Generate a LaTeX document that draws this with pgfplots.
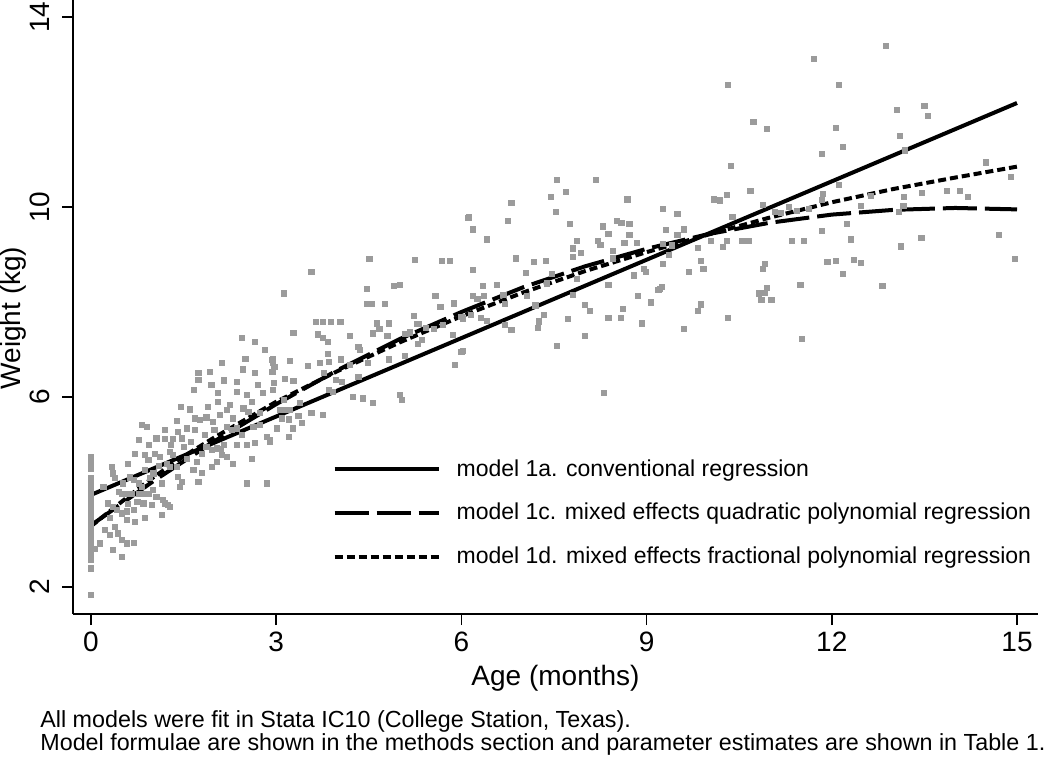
\documentclass[border=0pt]{standalone}
\usepackage{fontspec}
\setmainfont{Liberation Sans}
\usepackage{pgfplots}
\pgfplotsset{compat=1.18}
\definecolor{ptgray}{RGB}{155,155,155}

\begin{document}
\begin{tikzpicture}
\begin{axis}[
    scale only axis,
    width=482.5pt, height=307pt,
    xmin=-0.2916, xmax=15.34,
    ymin=1.432, ymax=14.358,
    axis x line*=bottom, axis y line*=left,
    axis line style={-, line width=0.75pt},
    xtick={0,3,6,9,12,15},
    ytick={2,6,10,14},
    tick align=outside,
    major tick length=5.5pt,
    tick style={black, line width=0.75pt},
    /pgf/number format/assume math mode=true,
    ticklabel style={font=\fontsize{14}{16}\selectfont},
    yticklabel style={rotate=90, anchor=south, yshift=2.5pt},
    xlabel={Age (months)}, ylabel={Weight (kg)},
    label style={font=\fontsize{14}{16}\selectfont},
    ylabel style={at={(axis description cs:0,0.482)}, anchor=center, yshift=30pt},
    legend cell align=left,
    legend style={draw=none, fill=none, at={(axis cs:3.81,4.86)}, anchor=north west,
        font=\fontsize{11.5}{13}\selectfont, row sep=8pt},
    legend image code/.code={\draw[#1] (0pt,0pt) -- (52pt,0pt); \path (58pt,0pt);},
]

% observed weights
\addplot[only marks, mark=square*, mark size=1.3pt, color=ptgray, forget plot] coordinates {
(0,1.83)(0,2.39)(0,2.57)(0,2.66)(0,2.75)(0,2.84)(0,2.93)(0,3.02)(0,3.11)(0,3.20)(0,3.29)(0,3.38)(0,3.47)(0,3.56)(0,3.65)(0,3.74)(0,3.83)(0,3.92)(0,4.01)(0,4.10)(0,4.19)(0,4.29)(0,4.48)(0,4.62)(0,4.74)
(2.44,7.24)(2.66,7.16)(2.82,6.99)(2.95,6.81)(2.95,6.71)(2.12,6.71)(2.46,6.58)(2.66,6.50)(1.74,6.51)(1.93,6.53)(1.74,6.36)(2.36,6.32)(2.94,6.53)(1.67,6.15)(2.36,6.11)(2.52,6.04)(2.05,6.08)(2.79,6.08)(2.94,6.15)(2.06,5.90)(2.25,5.83)(2.20,5.73)(1.60,5.74)(1.90,5.80)(2.09,5.62)(2.47,5.76)(2.55,5.69)(2.74,5.66)
(0.82,5.41)(0.90,5.37)(1.39,5.50)(1.68,5.55)(1.77,5.52)(1.87,5.57)(1.98,5.48)(1.55,5.34)(1.68,5.31)(2.20,5.37)(2.28,5.31)(2.36,5.34)(2.63,5.37)(2.74,5.41)(1.41,5.27)(1.06,5.13)(1.20,5.11)(1.33,5.11)(0.77,5.09)(0.94,4.99)(1.47,5.13)(1.87,4.95)(1.96,4.88)(2.04,4.92)(2.12,4.78)(2.20,4.74)(2.04,4.64)(2.36,4.99)(2.52,4.99)(2.66,5.03)(2.85,5.16)(2.90,5.09)
(0.71,4.81)(0.87,4.78)(0.93,4.67)(1.04,4.81)(1.12,4.74)(1.28,4.85)(1.33,4.78)(1.23,4.60)(1.28,4.53)(1.39,4.53)(1.41,4.32)(1.71,4.64)(1.96,4.53)(1.66,4.46)(1.74,4.22)(2.52,4.18)(2.85,4.18)(0.34,4.53)(0.36,4.39)(0.39,4.29)(0.52,4.18)(0.63,4.32)(0.69,4.25)
(0.50,3.96)(0.58,3.96)(0.66,3.96)(0.77,3.96)(0.87,3.96)(0.93,3.96)(1.06,3.90)(1.17,3.83)(1.25,3.73)(1.20,3.76)(0.98,3.73)(0.85,3.76)(0.28,3.76)(0.36,3.69)(0.42,3.62)(0.50,3.55)(0.58,3.59)(0.69,3.62)(1.15,3.52)(1.28,3.69)(0.87,3.45)(0.71,3.37)(0.58,3.41)(0.23,3.20)(0.31,3.09)(0.44,3.13)(0.39,3.27)(0.50,2.99)(0.58,2.92)(0.69,2.93)(0.36,2.78)(0.50,2.64)(0.15,2.92)(0.06,2.81)
(1.44,4.11)(1.47,4.22)(1.15,4.18)(1.01,4.39)(0.87,4.46)(0.63,4.29)(0.77,4.18)(0.82,4.11)(2.10,4.90)(2.15,5.00)(1.80,4.80)(1.55,4.70)(1.50,4.95)(1.10,4.55)(0.95,4.30)(0.75,3.80)(0.60,3.75)(1.00,4.05)
(1.30,5.00)(1.62,5.05)(1.85,5.20)(2.00,5.30)(2.30,5.55)(2.60,5.90)(2.70,6.25)(2.50,6.80)(1.95,6.25)(1.45,5.80)(1.20,5.30)(0.60,4.60)(0.45,4.00)(0.30,3.45)(0.20,4.10)(1.80,4.40)(2.30,4.60)(2.60,4.70)(2.45,5.20)(2.15,6.35)
(6.11,9.77)(4.51,8.91)(5.25,8.88)(5.69,8.86)(5.82,8.86)(3.57,8.63)(3.13,8.18)(4.47,8.27)(4.90,8.34)(5.01,8.36)(5.58,8.13)(4.47,7.96)(4.55,7.96)(4.76,7.96)(5.66,7.90)(5.88,7.97)(5.23,7.71)(5.31,7.54)(3.64,7.58)(3.75,7.58)(3.89,7.58)(4.04,7.58)(3.28,7.35)(3.68,7.32)(3.75,7.24)(3.84,7.16)(4.20,7.29)(4.63,7.55)(4.67,7.43)(4.83,7.55)(4.56,7.34)(4.80,7.29)(5.09,7.33)(5.17,7.36)(5.28,7.54)(5.42,7.45)(5.56,7.43)(5.70,7.52)(5.86,7.31)(5.29,7.12)(5.36,7.20)(6.00,7.69)
(2.93,6.78)(2.97,6.64)(2.93,6.53)(3.22,6.76)(3.51,6.65)(3.71,6.71)(3.86,6.74)(4.05,6.79)(4.20,6.67)(3.84,6.91)(4.33,7.06)(4.36,6.99)(4.48,6.71)(4.83,6.79)(5.09,6.87)(6.00,6.95)(5.90,6.67)(3.14,6.38)(3.28,6.34)(2.96,6.30)(3.77,6.50)(3.97,6.36)(4.06,6.32)(4.33,6.43)(3.86,6.15)(3.92,6.11)(4.24,6.01)(4.41,5.97)(4.56,5.87)(5.01,6.04)(5.03,5.94)(3.12,5.94)(3.39,5.87)(3.57,5.66)(3.76,5.62)(3.06,5.73)(3.14,5.73)(3.22,5.73)(3.09,5.55)(3.20,5.53)(3.36,5.60)(3.41,5.45)(3.01,5.34)(3.27,5.34)(3.20,5.16)(2.90,5.06)
(7.55,10.57)(8.18,10.57)(7.45,10.22)(7.69,10.31)(8.69,10.16)(6.81,10.08)(7.53,9.90)(6.12,9.78)(6.75,9.71)(6.19,9.53)(7.76,9.64)(8.29,9.59)(8.38,9.43)(8.52,9.71)(8.59,9.66)(8.72,9.64)(8.72,9.41)(6.41,9.32)(7.87,9.29)(8.21,9.29)(8.25,9.20)(8.64,9.24)(8.84,9.24)(7.80,9.13)(7.80,8.95)(7.93,9.03)(8.45,9.07)(8.45,8.92)(6.88,8.92)(7.17,8.85)(7.37,8.86)(6.19,8.67)(7.04,8.62)(7.46,8.60)(7.39,8.39)(6.35,8.34)(6.57,8.36)(7.87,8.48)(8.38,8.36)
(6.19,8.13)(6.37,8.13)(6.26,8.06)(6.68,8.15)(7.06,8.13)(8.79,8.56)(8.95,8.69)(8.99,8.64)(7.80,8.15)(8.86,8.13)(9.19,8.25)(9.07,7.99)(6.70,7.96)(7.20,7.93)(8.00,7.94)(8.08,7.81)(8.62,7.86)(6.02,7.65)(6.16,7.73)(6.31,7.66)(6.41,7.60)(7.33,7.73)(7.25,7.59)(7.24,7.45)(6.81,7.41)(6.71,7.52)(7.73,7.64)(8.38,7.66)(8.58,7.66)(8.92,7.55)(8.00,7.28)(7.55,7.08)(6.02,6.97)(8.31,6.09)
(11.71,13.12)(10.32,12.57)(12.11,12.57)(10.73,11.79)(10.95,11.64)(12.07,11.67)(12.18,11.26)(11.84,11.12)(10.37,10.86)(10.09,10.16)(10.19,10.14)(10.30,10.25)(10.68,10.34)(11.86,10.27)(11.84,10.15)(12.12,10.47)(9.26,9.96)(9.50,9.85)(10.88,10.04)(11.08,9.89)(11.17,9.87)(11.31,10.01)(11.44,9.92)(11.63,9.96)(9.31,9.52)(9.61,9.53)(9.50,9.41)(10.39,9.79)(12.24,9.65)(11.84,9.50)
(10.04,9.28)(10.30,9.28)(10.55,9.28)(10.66,9.28)(11.35,9.29)(11.55,9.29)(9.26,9.22)(9.41,9.19)(9.36,8.99)(9.83,9.14)(10.23,9.16)(9.27,8.80)(9.88,8.86)(9.92,8.70)(9.68,8.63)(10.92,8.80)(10.88,8.70)(11.93,8.84)(12.06,8.86)(12.18,8.59)(9.22,8.27)(9.25,8.31)(9.07,7.98)(11.49,8.36)(9.88,7.95)(9.83,7.81)(10.82,8.18)(10.95,8.30)(10.92,8.20)(10.86,8.04)(11.02,8.04)(10.32,7.66)(9.61,7.43)(11.51,7.22)
(12.87,13.39)(13.05,12.04)(13.50,12.13)(13.55,11.92)(13.10,11.49)(13.19,11.19)(14.50,10.94)(14.90,10.63)(13.46,10.30)(13.86,10.34)(14.08,10.34)(14.21,10.22)(13.17,10.22)(12.63,10.23)(12.47,10.02)(13.16,10.02)(13.09,9.90)(12.31,9.32)(14.70,9.41)(13.45,9.35)(13.12,9.17)(12.36,8.88)(12.47,8.83)(14.97,8.91)(12.82,8.34)
};

% model 1a: conventional regression
\addplot[black, line width=2pt] coordinates {
(0,3.94)(3,5.59)(6,7.24)(9,8.89)(12,10.54)(15,12.19)
};
\addlegendentry{model 1a. conventional regression}

% model 1c: quadratic polynomial
\addplot[black, line width=2pt, dash pattern=on 17pt off 4pt] coordinates {
(0,3.30)(1,4.22)(2,5.07)(3,5.85)(4,6.57)(5,7.22)(6,7.79)(7,8.31)(8,8.75)(9,9.12)(10,9.43)(11,9.67)(12,9.84)(13,9.94)(14,9.98)(15,9.95)
};
\addlegendentry{model 1c. mixed effects quadratic polynomial regression}

% model 1d: fractional polynomial
\addplot[black, line width=2pt, dash pattern=on 4pt off 2pt] coordinates {
(0,3.28)(0.5,3.80)(1,4.30)(1.5,4.75)(2,5.15)(3,5.90)(4,6.55)(5,7.15)(6,7.70)(7,8.20)(8,8.65)(9,9.05)(10,9.42)(11,9.78)(12,10.10)(13,10.38)(14,10.62)(15,10.85)
};
\addlegendentry{model 1d. mixed effects fractional polynomial regression}

\end{axis}
\node[anchor=base west, inner sep=0pt, font=\fontsize{11.65}{14}\selectfont] at (-16.5pt,-56.5pt) {All models were fit in Stata IC10 (College Station, Texas).};
\node[anchor=base west, inner sep=0pt, font=\fontsize{11.65}{14}\selectfont] at (-16.5pt,-68pt) {Model formulae are shown in the methods section and parameter estimates are shown in Table 1.};
\pgfresetboundingbox
\path[use as bounding box] (-36.5pt,-71pt) rectangle (488.5pt,307pt);
\end{tikzpicture}
\end{document}
